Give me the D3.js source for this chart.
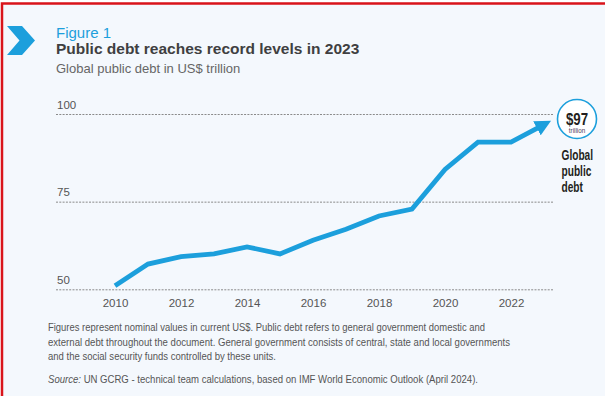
<!DOCTYPE html>
<html>
<head>
<meta charset="utf-8">
<script src="https://cdn.jsdelivr.net/npm/d3@7"></script>
<style>
  body { margin: 0; background: #fff; }
  svg { display: block; font-family: 'Liberation Sans', Arial, sans-serif; }
</style>
</head>
<body>
<script>
const years = [2010, 2011, 2012, 2013, 2014, 2015, 2016, 2017, 2018, 2019, 2020, 2021, 2022, 2023];
const debt = [51, 57.2, 59.3, 60.1, 62.1, 60.1, 64.0, 67.1, 70.9, 72.9, 84.2, 92.0, 92.0, 97];
const yTicks = [50, 75, 100];
const xTicks = [2010, 2012, 2014, 2016, 2018, 2020, 2022];
const notes = [
  'Figures represent nominal values in current US$. Public debt refers to general government domestic and',
  'external debt throughout the document. General government consists of central, state and local governments',
  'and the social security funds controlled by these units.'
];

const width = 605, height = 396;
const blue = '#1c9fdc';

const svg = d3.select('body').append('svg')
  .attr('width', width)
  .attr('height', height);

// panel + red frame
svg.append('rect').attr('x', 0).attr('y', 0).attr('width', width).attr('height', height).attr('fill', '#fff');
svg.append('rect').attr('x', 2).attr('y', 3.5).attr('width', width + 10).attr('height', height + 10)
  .attr('fill', '#f4f8fd').attr('stroke', '#d9141b').attr('stroke-width', 2.5);

// chevron
svg.append('path')
  .attr('d', 'M7,26 L22,26 L35,40.5 L22,55 L7,55 L19.5,40.5 Z')
  .attr('fill', blue);

svg.append('text').attr('x', 56).attr('y', 38).text('Figure 1')
  .attr('fill', blue).attr('font-size', 15);
svg.append('text').attr('x', 56).attr('y', 54).text('Public debt reaches record levels in 2023')
  .attr('fill', '#3f3f41').attr('font-size', 15.5).attr('font-weight', 'bold');
svg.append('text').attr('x', 56).attr('y', 73).text('Global public debt in US$ trillion')
  .attr('fill', '#666').attr('font-size', 13);

const x = d3.scaleLinear().domain([2010, 2023]).range([115, 544]);
const y = d3.scaleLinear().domain([50, 100]).range([289.3, 114]);

// y grid
const yAxis = svg.append('g')
  .attr('transform', 'translate(56,0)')
  .call(d3.axisRight(y).tickValues(yTicks).tickSize(497));
yAxis.select('.domain').remove();
yAxis.selectAll('.tick line')
  .attr('stroke', '#8a8a8a').attr('stroke-dasharray', '2,1.3').attr('stroke-width', 1);
yAxis.selectAll('.tick text')
  .attr('x', 1).attr('dy', -6).attr('text-anchor', 'start')
  .attr('fill', '#555').attr('font-size', 11.5).attr('font-family', 'Liberation Sans, Arial, sans-serif');

// x axis
const xAxis = svg.append('g')
  .attr('transform', 'translate(0,296)')
  .call(d3.axisBottom(x).tickValues(xTicks).tickFormat(d3.format('d')).tickSize(0));
xAxis.select('.domain').remove();
xAxis.selectAll('.tick text')
  .attr('fill', '#555').attr('font-size', 11.5).attr('font-family', 'Liberation Sans, Arial, sans-serif');

// arrow
svg.append('defs').append('marker')
  .attr('id', 'arrow')
  .attr('markerUnits', 'userSpaceOnUse')
  .attr('viewBox', '0 0 16 16')
  .attr('markerWidth', 16).attr('markerHeight', 16)
  .attr('refX', 8).attr('refY', 8)
  .attr('orient', 'auto')
  .append('path').attr('d', 'M0,0 L16,8 L0,16 Z').attr('fill', blue);

const line = d3.line().x((d, i) => x(years[i])).y(d => y(d));
svg.append('path')
  .datum(debt)
  .attr('d', line)
  .attr('fill', 'none')
  .attr('stroke', blue)
  .attr('stroke-width', 4.8)
  .attr('stroke-linejoin', 'miter')
  .attr('marker-end', 'url(#arrow)');

// end label, squeezed horizontally for a condensed look
const lab = svg.append('g');
lab.append('circle').attr('cx', 577).attr('cy', 119).attr('r', 19.5)
  .attr('fill', '#fff').attr('stroke', blue).attr('stroke-width', 1.6);
lab.append('text').attr('transform', 'translate(577,124.5) scale(0.78,1)')
  .attr('text-anchor', 'middle')
  .attr('font-size', 17).attr('font-weight', 'bold').attr('fill', '#231f20')
  .text('$' + debt[debt.length - 1]);
lab.append('text').attr('transform', 'translate(577,133) scale(0.9,1)')
  .attr('text-anchor', 'middle')
  .attr('font-size', 7).attr('fill', '#4e4257')
  .text('trillion');
['Global', 'public', 'debt'].forEach((t, i) => {
  lab.append('text').attr('transform', `translate(561.5,${160 + i * 16}) scale(0.7,1)`)
    .attr('font-size', 14.5).attr('font-weight', 'bold').attr('fill', '#231f20')
    .text(t);
});

// notes
const widths = [437, 462, 228];
notes.forEach((t, i) => {
  svg.append('text').attr('x', 48).attr('y', 331 + i * 14.5)
    .attr('font-size', 10.5).attr('fill', '#555')
    .attr('textLength', widths[i]).attr('lengthAdjust', 'spacingAndGlyphs')
    .text(t);
});
const src = svg.append('text').attr('x', 48).attr('y', 383)
  .attr('font-size', 10.5).attr('fill', '#555')
  .attr('textLength', 430).attr('lengthAdjust', 'spacingAndGlyphs');
src.append('tspan').attr('font-style', 'italic').text('Source:');
src.append('tspan').text('  UN GCRG - technical team calculations, based on IMF World Economic Outlook (April 2024).');
</script>
</body>
</html>
